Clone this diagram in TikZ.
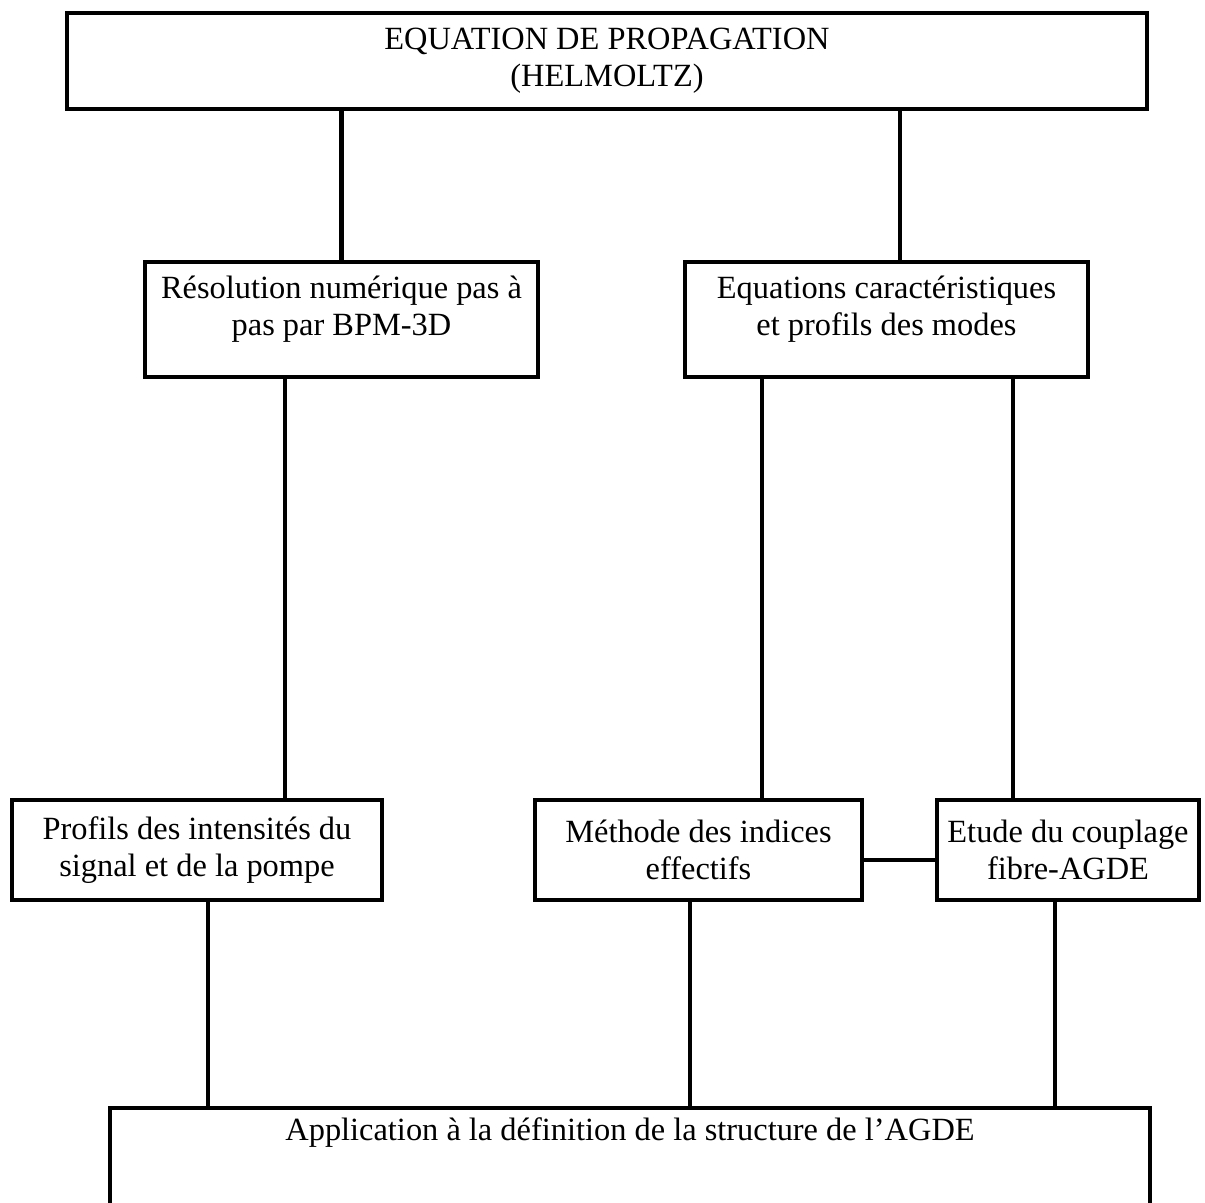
\documentclass[tikz,border=0pt]{standalone}
\usepackage{fontspec}
\setmainfont{Liberation Serif}
\usetikzlibrary{positioning,calc}

\begin{document}
\begin{tikzpicture}[x=0.5pt, y=-0.5pt,
  boite/.style={draw, line width=2.2pt, inner sep=0pt, align=center,
                font=\fontsize{16.2}{18.5}\selectfont},
  texte/.style={inner sep=0pt, align=center, font=\fontsize{16.2}{18.5}\selectfont},
  lien/.style={line width=2.2pt}]
\useasboundingbox (0,0) rectangle (1205,1203);
% boites
\node[boite, minimum width=540pt, minimum height=48pt] (helm) at (607,61)
  {EQUATION DE PROPAGATION\\(HELMOLTZ)};
\node[boite, minimum width=196.5pt, minimum height=57.5pt] (bpm) at (341.5,319.5) {};
\node[boite, minimum width=201.5pt, minimum height=57.5pt] (eqc) at (886.5,319.5) {};
\node[boite, minimum width=185pt, minimum height=50pt] (prof) at (197,850)
  {Profils des intensités du\\signal et de la pompe};
\node[boite, minimum width=163.5pt, minimum height=50pt] (mie) at (698.5,850)
  {Méthode des indices\\effectifs};
\node[boite, minimum width=131pt, minimum height=50pt] (coupl) at (1068,850)
  {Etude du couplage\\fibre-AGDE};
\node[boite, minimum width=520pt, minimum height=51pt] (agde) at (630,1159) {};
% textes en haut des boites
\node[texte] (bpmt) at ([yshift=-24.75pt]bpm.north) {Résolution numérique pas à\\pas par BPM-3D};
\node[texte] (eqct) at ([yshift=-24.75pt]eqc.north) {Equations caractéristiques\\et profils des modes};
\node[texte] (agdet) at ([yshift=-13.5pt]agde.north) {Application à la définition de la structure de l'AGDE};
% abscisses des liens
\coordinate (l2) at (900,0);
\coordinate (l3) at (285,0);
\coordinate (l4) at (762,0);
\coordinate (l5) at (1013,0);
\coordinate (l6) at (208,0);
\coordinate (l7) at (690,0);
\coordinate (l8) at (1055,0);
\coordinate (h1) at (0,860);
% liens
\draw[lien] (bpm.north) -- (bpm.north |- helm.south);
\draw[lien] (helm.south -| l2) -- (eqc.north -| l2);
\draw[lien] (bpm.south -| l3) -- (prof.north -| l3);
\draw[lien] (eqc.south -| l4) -- (mie.north -| l4);
\draw[lien] (eqc.south -| l5) -- (coupl.north -| l5);
\draw[lien] (prof.south -| l6) -- (agde.north -| l6);
\draw[lien] (mie.south -| l7) -- (agde.north -| l7);
\draw[lien] (coupl.south -| l8) -- (agde.north -| l8);
\draw[lien] (mie.east |- h1) -- (coupl.west |- h1);
\end{tikzpicture}
\end{document}
